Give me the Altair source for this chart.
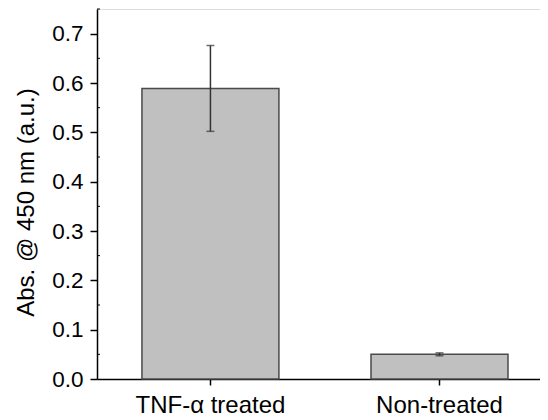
import altair as alt
import pandas as pd

categories = ["TNF-α treated", "Non-treated"]
values = [0.589, 0.050]
errors = [0.087, 0.003]
minor_ticks = [0.05, 0.15, 0.25, 0.35, 0.45, 0.55, 0.65, 0.75]

df = pd.DataFrame({
    "cat": categories,
    "val": values,
    "lo": [v - e for v, e in zip(values, errors)],
    "hi": [v + e for v, e in zip(values, errors)],
})
mdf = pd.DataFrame({"m": minor_ticks})

FONT = "Liberation Sans"
xscale = alt.Scale(paddingInner=0.402, paddingOuter=0.168, align=0.584)
yscale = alt.Scale(domain=[0, 0.75], nice=False, zero=True)

x_enc = alt.X("cat:N", sort=categories, scale=xscale, title=None,
              axis=alt.Axis(labelAngle=0, labelFontSize=24, labelFont=FONT,
                            labelColor="black", tickSize=6, tickColor="black",
                            domainColor="black", domainWidth=1.5, tickWidth=1.5,
                            labelPadding=8))
y_enc = alt.Y("val:Q", scale=yscale,
              title="Abs. @ 450 nm (a.u.)",
              axis=alt.Axis(values=[0, 0.1, 0.2, 0.3, 0.4, 0.5, 0.6, 0.7],
                            format=".1f", labelFontSize=22.5, labelFont=FONT,
                            labelColor="black", tickSize=7, tickColor="black",
                            tickWidth=1.5, domainColor="black", domainWidth=1.5,
                            labelPadding=7, titleFontSize=24, titleFont=FONT,
                            titleFontWeight="normal", titleColor="black",
                            titleX=-59, titleY=193, grid=False))

base = alt.Chart(df)
bars = base.mark_bar(color="#c0c0c0", stroke="#4a4a4a", strokeWidth=1.5).encode(
    x=x_enc, y=y_enc)
rules = base.mark_rule(color="#333333", strokeWidth=1.5).encode(
    x=alt.X("cat:N", sort=categories, scale=xscale),
    y=alt.Y("lo:Q", scale=yscale), y2="hi:Q")
caps_hi = base.mark_tick(color="#333333", thickness=1.5, size=8, orient="horizontal").encode(
    x=alt.X("cat:N", sort=categories, scale=xscale),
    y=alt.Y("hi:Q", scale=yscale))
caps_lo = base.mark_tick(color="#333333", thickness=1.5, size=8, orient="horizontal").encode(
    x=alt.X("cat:N", sort=categories, scale=xscale),
    y=alt.Y("lo:Q", scale=yscale))
minor = alt.Chart(mdf).mark_rule(color="black", strokeWidth=1).encode(
    x=alt.value(0), x2=alt.value(3),
    y=alt.Y("m:Q", scale=yscale))

chart = alt.layer(bars, rules, caps_hi, caps_lo, minor).properties(
    width=443, height=370,
    autosize=alt.AutoSizeParams(type="none"),
    padding={"left": 89, "top": 1, "right": 0, "bottom": 40},
).configure_view(stroke=None).configure(background="white")

chart.save("out.html", embed_options={"renderer": "svg", "actions": False})
